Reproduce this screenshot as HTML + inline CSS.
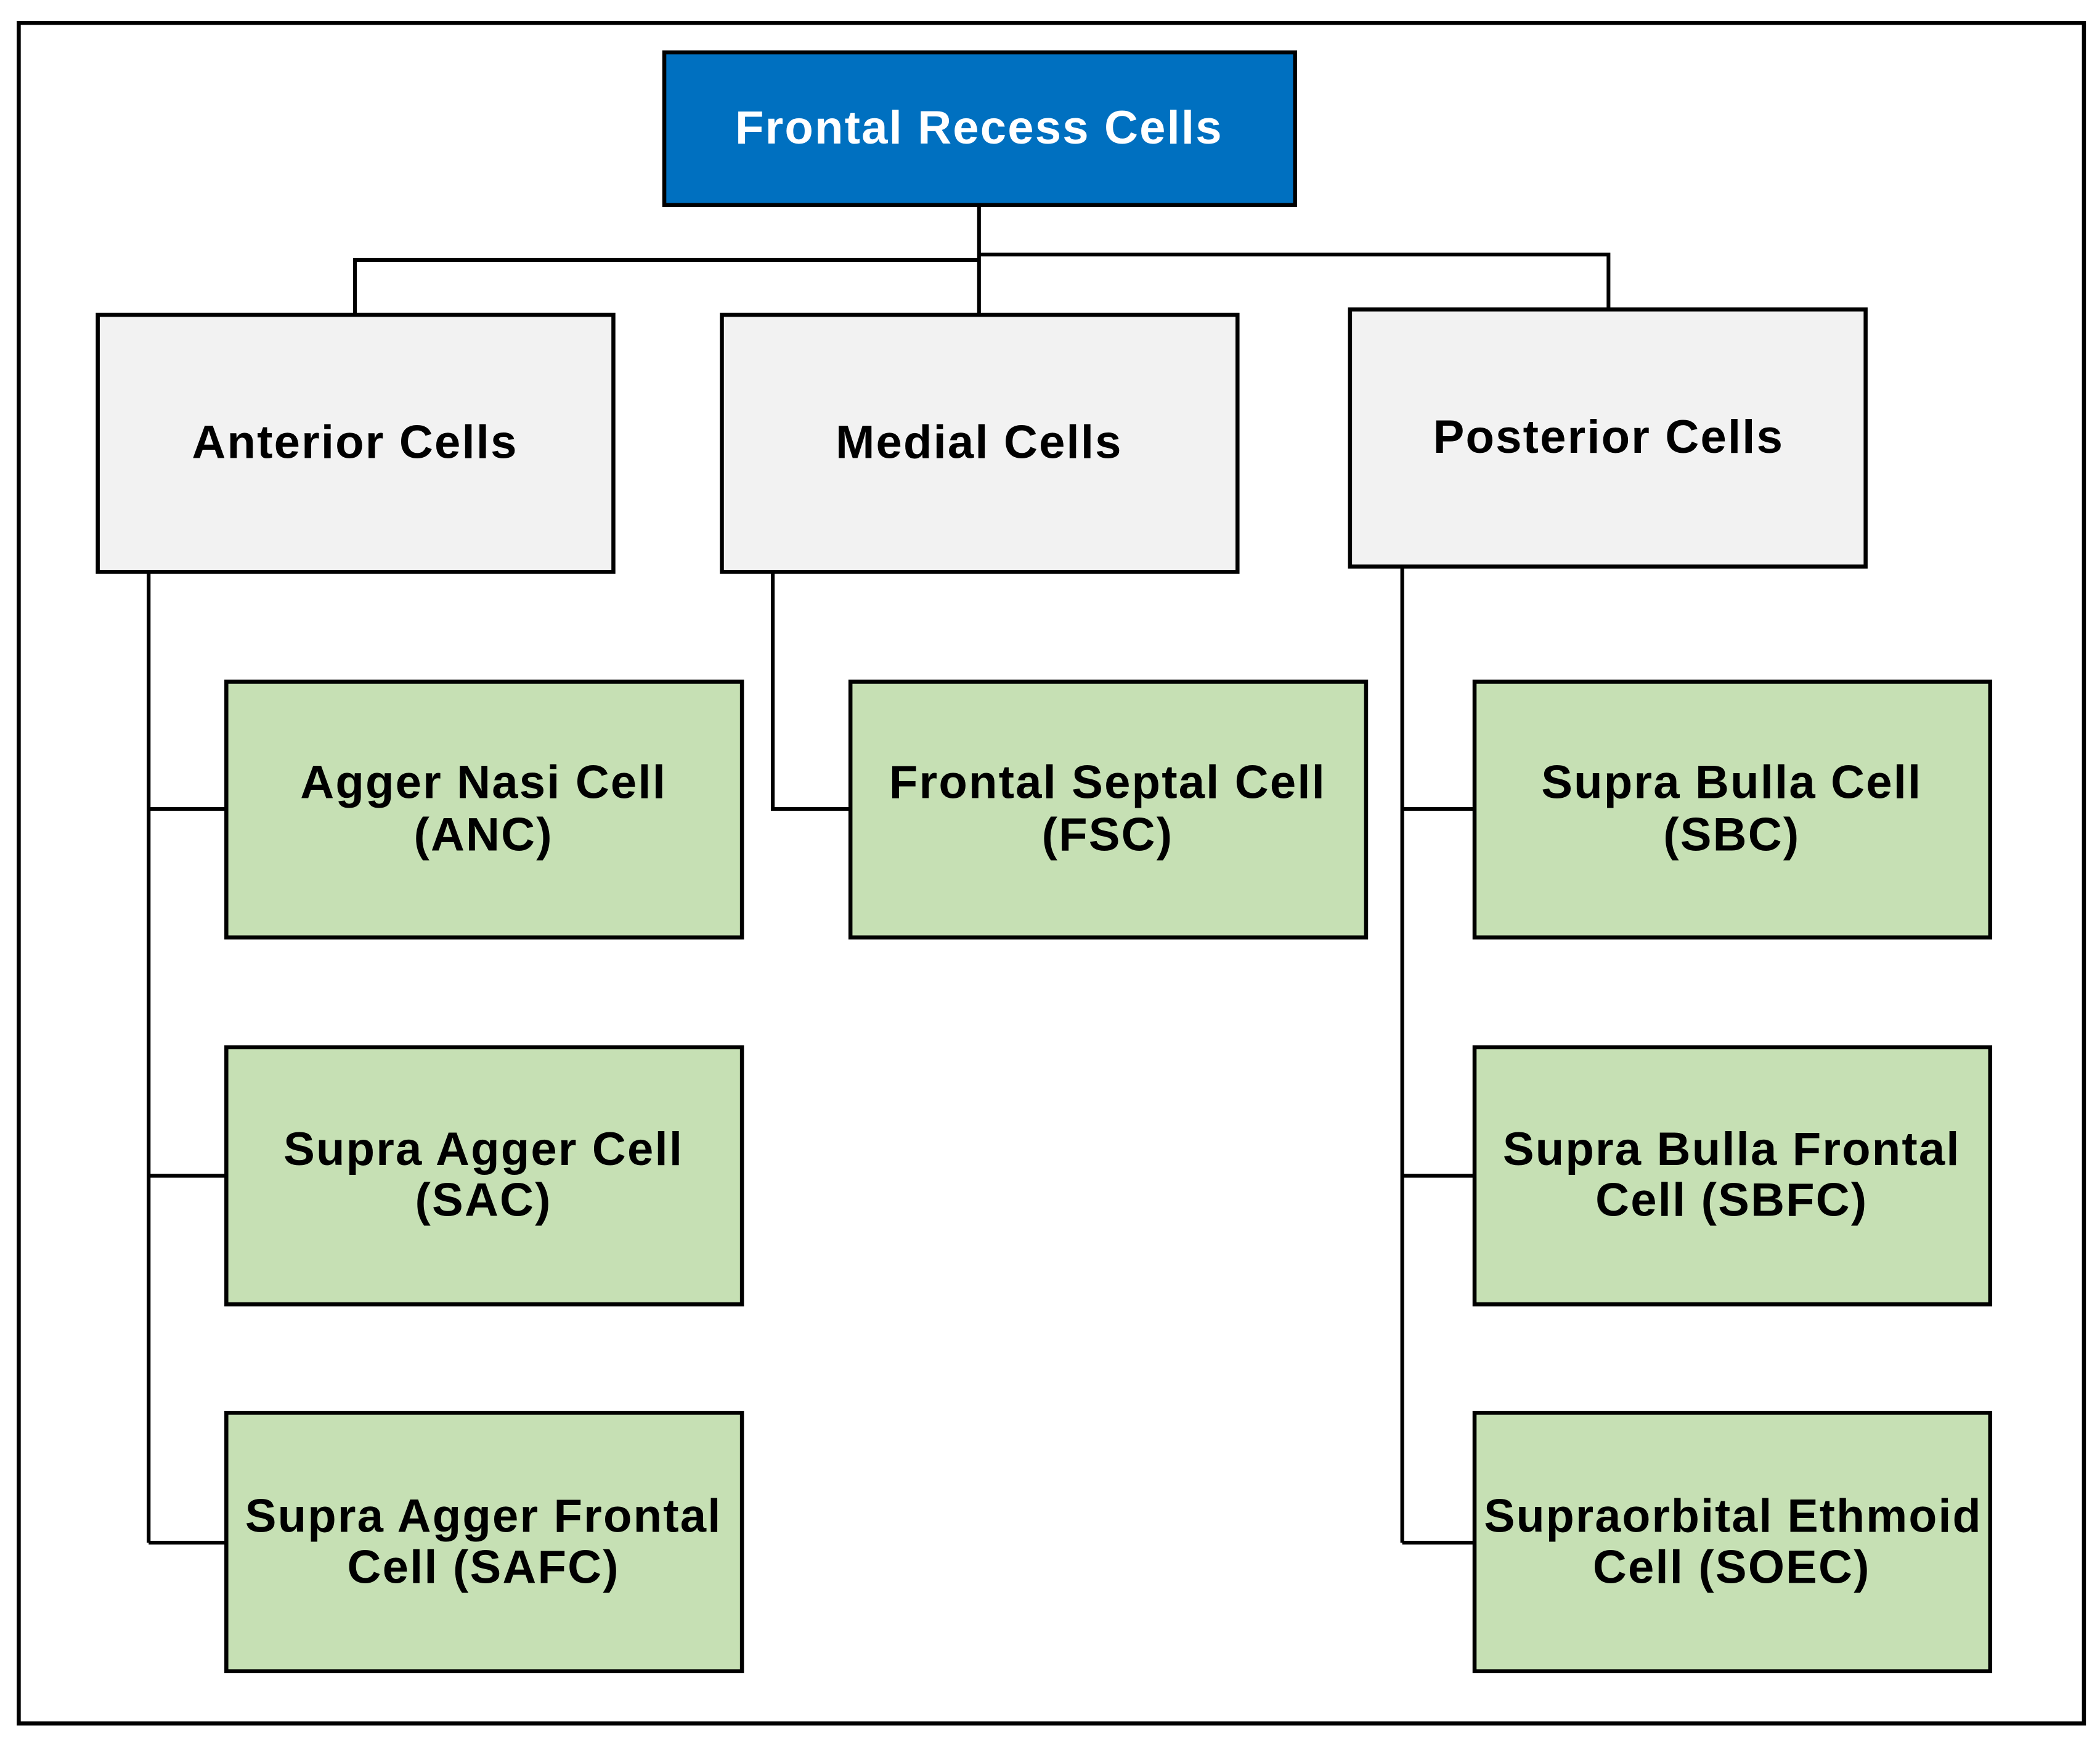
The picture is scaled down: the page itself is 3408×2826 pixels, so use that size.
<!DOCTYPE html>
<html><head><meta charset="utf-8"><style>html,body{margin:0;padding:0;background:#fff}svg{display:block}</style></head>
<body>
<svg width="3408" height="2826" viewBox="0 0 1568 1300" xmlns="http://www.w3.org/2000/svg" font-family="Liberation Sans, Arial, sans-serif" font-weight="bold" text-anchor="middle">
<rect x="0" y="0" width="1568" height="1300" fill="#fff"/>
<rect x="14" y="17" width="1542" height="1270" fill="none" stroke="#000" stroke-width="3"/>
<g stroke="#000" stroke-width="2.8" fill="none">
<path d="M731 153V235M265 235V194H731M731 190H1201V231"/>
<path d="M111 427V1152M111 604H169M111 878H169M111 1152H169"/>
<path d="M577 427V604H635"/>
<path d="M1047 423V1152M1047 604H1101M1047 878H1101M1047 1152H1101"/>
</g>
<rect x="496" y="39" width="471" height="114" fill="#0070c0" stroke="#000" stroke-width="3"/>
<text x="731" y="107" fill="#fff" font-size="35" letter-spacing="1">Frontal Recess Cells</text>
<g fill="#f2f2f2" stroke="#000" stroke-width="3">
<rect x="73" y="235" width="385" height="192"/>
<rect x="539" y="235" width="385" height="192"/>
<rect x="1008" y="231" width="385" height="192"/>
</g>
<g font-size="35" fill="#000" letter-spacing="1">
<text x="265" y="342">Anterior Cells</text>
<text x="731" y="342">Medial Cells</text>
<text x="1201" y="338">Posterior Cells</text>
</g>
<g fill="#c6e0b4" stroke="#000" stroke-width="3">
<rect x="169" y="509" width="385" height="191"/>
<rect x="635" y="509" width="385" height="191"/>
<rect x="1101" y="509" width="385" height="191"/>
<rect x="169" y="782" width="385" height="192"/>
<rect x="1101" y="782" width="385" height="192"/>
<rect x="169" y="1055" width="385" height="193"/>
<rect x="1101" y="1055" width="385" height="193"/>
</g>
<g font-size="35" fill="#000" letter-spacing="1">
<text x="361" y="596">Agger Nasi Cell</text><text x="361" y="635">(ANC)</text>
<text x="827" y="596">Frontal Septal Cell</text><text x="827" y="635">(FSC)</text>
<text x="1293" y="596">Supra Bulla Cell</text><text x="1293" y="635">(SBC)</text>
<text x="361" y="870">Supra Agger Cell</text><text x="361" y="908">(SAC)</text>
<text x="1293" y="870">Supra Bulla Frontal</text><text x="1293" y="908">Cell (SBFC)</text>
<text x="361" y="1144">Supra Agger Frontal</text><text x="361" y="1182">Cell (SAFC)</text>
<text x="1294" y="1144" textLength="372" lengthAdjust="spacingAndGlyphs">Supraorbital Ethmoid</text><text x="1293" y="1182">Cell (SOEC)</text>
</g>
</svg>
</body></html>
